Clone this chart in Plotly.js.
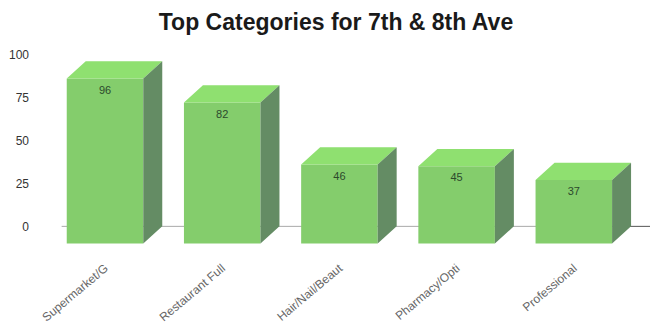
<!DOCTYPE html>
<html>
<head>
<meta charset="utf-8">
<script src="https://cdn.plot.ly/plotly-3.0.1.min.js"></script>
<style>html,body{margin:0;padding:0;background:#fff}#chart{width:650px;height:325px}</style>
</head>
<body>
<div id="chart"></div>
<script>
const categories = ["Supermarket/G", "Restaurant Full", "Hair/Nail/Beaut", "Pharmacy/Opti", "Professional"];
const values = [96, 82, 46, 45, 37];
const yTicks = [0, 25, 50, 75, 100];

// Box proportions in axis units: the back wall sits on the value, the front face is shifted by the depth.
const boxWidth = 0.653;
const depthX = 0.162;
const depthY = 10;
const labelInset = 4;

const positions = categories.map((_, i) => i);
const frontColor = "#84cd6c";
const topColor = "#8fe070";
const sideColor = "#648c64";

// One closed polygon per box, separated by nulls so a single trace fills them all.
function polygons(corners) {
  const xs = [], ys = [];
  positions.forEach((p, i) => {
    corners(p, values[i]).forEach(c => { xs.push(c[0]); ys.push(c[1]); });
    xs.push(null); ys.push(null);
  });
  return {x: xs, y: ys};
}

const half = boxWidth / 2;
const topFaces = polygons((p, v) => [
  [p - half, v - depthY], [p + half, v - depthY],
  [p + half + depthX, v], [p - half + depthX, v], [p - half, v - depthY]
]);
const sideFaces = polygons((p, v) => [
  [p + half, -depthY], [p + half + depthX, 0],
  [p + half + depthX, v], [p + half, v - depthY], [p + half, -depthY]
]);

const traces = [
  {
    type: "bar", x: positions, y: values, base: values.map(() => -depthY), width: boxWidth,
    marker: {color: frontColor, line: {width: 0}}, hoverinfo: "skip"
  },
  {type: "scatter", mode: "lines", x: topFaces.x, y: topFaces.y, fill: "toself", fillcolor: topColor, line: {width: 0}, hoverinfo: "skip"},
  {type: "scatter", mode: "lines", x: sideFaces.x, y: sideFaces.y, fill: "toself", fillcolor: sideColor, line: {width: 0}, hoverinfo: "skip"},
  {
    type: "scatter", mode: "text", x: positions, y: values.map(v => v - depthY - labelInset),
    text: values.map(String), textposition: "bottom center",
    textfont: {family: "Liberation Sans, Arial, sans-serif", size: 11, color: "#2c4a2c"},
    hoverinfo: "skip"
  }
];

const layout = {
  width: 650, height: 325,
  margin: {l: 30, r: 0, t: 44, b: 78},
  paper_bgcolor: "#fff", plot_bgcolor: "#fff",
  showlegend: false,
  title: {
    text: "<b>Top Categories for 7th & 8th Ave</b>",
    x: 336 / 650, xanchor: "center", y: 0.932, yanchor: "middle",
    font: {family: "Liberation Sans, Arial, sans-serif", size: 23, color: "#1a1a1a"}
  },
  xaxis: {
    range: [-0.64, 4.65], showgrid: false, zeroline: false, showline: false, ticks: "",
    tickmode: "array", tickvals: positions, ticktext: categories, tickangle: -40, ticklabelstandoff: 11,
    tickfont: {family: "Liberation Sans, Arial, sans-serif", size: 12, color: "#666"}
  },
  yaxis: {
    range: [-12, 106], showgrid: false, zeroline: false, showline: false, ticks: "",
    tickmode: "array", tickvals: yTicks, ticktext: yTicks.map(String),
    tickfont: {family: "Liberation Sans, Arial, sans-serif", size: 12, color: "#333"}
  },
  shapes: [
    {type: "line", layer: "below", xref: "x", yref: "y", x0: -0.37, x1: 4.46, y0: 0, y1: 0, line: {color: "#aaa", width: 1}},
    {type: "line", layer: "below", xref: "x", yref: "y", x0: 4.46, x1: 4.65, y0: 0, y1: 0, line: {color: "#555", width: 1}}
  ]
};

Plotly.newPlot("chart", traces, layout, {displayModeBar: false, staticPlot: true});
</script>
</body>
</html>
